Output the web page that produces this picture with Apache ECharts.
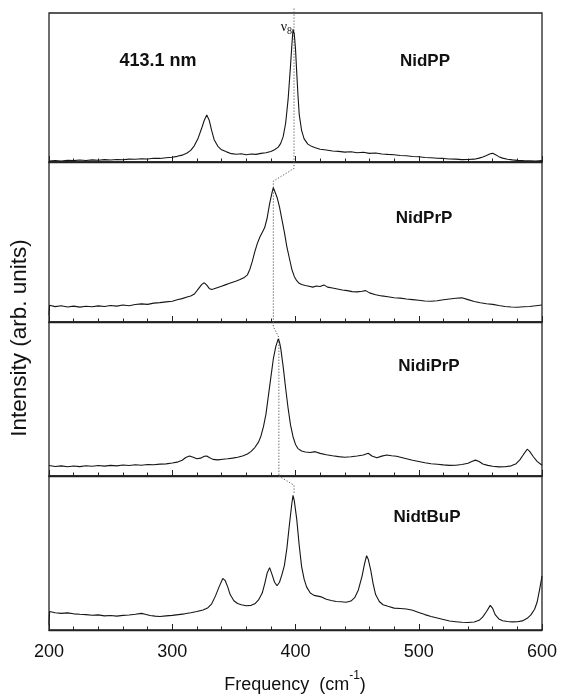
<!DOCTYPE html>
<html>
<head>
<meta charset="utf-8">
<script src="https://cdn.jsdelivr.net/npm/echarts@6/dist/echarts.min.js"></script>
<style>html,body{margin:0;padding:0;background:#fff;}#c{width:561px;height:700px;}</style>
</head>
<body>
<div id="c"></div>
<script>
// ---- data (frequency in cm-1, intensity in arbitrary units per panel, 0..100) ----
var panelNames = ['NidPP', 'NidPrP', 'NidiPrP', 'NidtBuP'];
var xTicks = [200, 300, 400, 500, 600];

var nidppX = [200,205,210,215,220,225,230,235,240,245,250,255,260,265,270,275,280,285,290,295,300,304,308,312,315,318,321,324,326,328,330,332,334,337,340,344,348,352,356,360,364,368,372,376,380,383,386,388,390,392,394,396,397,398,399,400,401,402,403,405,407,410,413,416,420,425,430,435,440,445,450,455,460,465,470,475,480,485,490,495,500,505,510,515,520,525,530,535,540,545,549,552,555,558,560,562,565,568,572,576,580,585,590,595,600];
var nidppY = [0.6,1.0,0.7,1.1,0.9,1.3,1.0,1.4,1.2,1.6,1.3,1.7,1.5,1.9,1.8,2.2,2.0,2.5,2.4,2.9,3.2,3.8,4.6,6.0,7.8,11,16,23,28,31.5,28,21,15,10.5,8.2,6.8,5.6,5.2,5.5,4.9,5.4,5.1,5.8,6.2,7.0,8.2,10,12.5,17,26,42,65,78,89,86,76,60,45,32,21,15.5,12,10.5,9.6,8.6,8.0,7.4,7.1,6.6,6.9,6.2,6.5,5.8,6.0,5.4,5.1,4.9,4.4,4.2,3.7,3.5,3.0,2.9,2.5,2.4,2.0,1.9,1.6,1.7,1.9,2.6,3.4,4.4,5.5,5.8,5.0,3.6,2.6,1.9,1.4,1.1,0.9,0.8,0.7,0.9];

var nidprpX = [200,200.5,205,210,215,220,225,230,235,240,245,250,255,260,265,270,275,280,285,290,295,300,304,308,312,315,318,321,324,326,328,330,332,334,337,340,343,346,349,352,355,358,361,363,365,367,369,371,373,375,377,379,381,382,383,385,387,389,391,393,395,397,399,401,403,405,408,411,414,417,420,423,426,430,434,438,442,446,450,454,457,460,465,470,475,480,485,490,495,500,505,510,515,520,525,530,535,540,545,550,555,560,565,570,575,580,585,590,595,600];
var nidprpY = [4,10.5,9.6,10.2,9.4,9.9,9.3,9.8,9.5,10.1,9.7,10.3,9.9,10.6,10.2,10.9,11.3,11.0,11.8,12.1,12.6,13.0,13.9,14.6,15.6,16.2,17.5,20.5,23.5,24.5,23.0,21.0,20.3,20.8,21.6,22.4,23.2,24.0,24.8,25.6,26.5,27.6,29.5,33,38,44,49,53,56,59,65,74,81,84,82,78,72,64,56,47,40,33,28.5,25.8,24.2,23.4,22.8,22.3,21.8,22.5,22.2,23.2,21.8,21.2,20.6,20.0,19.6,19.0,18.8,19.2,19.6,18.2,17.0,16.3,15.8,15.2,14.9,14.4,14.0,13.6,13.1,13.0,13.3,13.9,14.4,14.8,15.1,14.0,12.8,12.0,11.4,11.0,10.3,9.7,9.4,9.2,9.5,9.7,10.2,10.6];

var nidiprpX = [200,205,210,215,220,225,230,235,240,245,250,255,260,265,270,275,280,285,290,295,300,304,308,311,314,317,320,323,326,328,330,333,337,341,345,349,353,357,361,364,367,370,372,374,376,378,380,382,384,386,387,388,390,392,394,396,398,400,402,405,408,412,416,420,425,430,435,440,445,450,455,459,462,466,470,474,478,482,486,490,495,500,505,510,515,520,525,530,535,540,543,546,549,552,556,560,565,570,575,579,582,585,588,590,593,596,600];
var nidiprpY = [6.8,6.2,6.6,6.0,6.5,6.1,6.7,6.3,6.8,6.4,6.9,6.6,7.1,6.8,7.3,7.0,7.5,7.3,7.7,7.9,8.4,9.0,10.2,12.0,13.0,12.2,11.2,11.6,12.8,13.0,12.0,10.8,10.5,10.9,11.2,11.6,12.2,13.0,14.3,16.0,18.5,22,26,32,40,52,64,76,84,89,87,83,71,57,44,33,25.5,20.5,17.8,16.2,15.6,15.3,15.8,14.7,13.8,13.1,12.6,12.2,12.5,13.0,13.6,14.8,13.0,11.8,12.9,13.6,13.1,12.8,12.0,11.2,10.2,9.4,8.6,8.0,7.6,7.2,6.9,7.0,7.5,8.3,9.4,10.3,9.4,7.8,6.9,6.3,5.9,6.0,6.6,8.0,10.5,14.0,17.4,16.0,12.5,9.5,7.0];

var nidtbupX = [200,200.5,205,210,215,220,225,230,235,240,245,250,255,260,265,270,275,278,282,286,290,295,300,305,310,315,320,325,329,332,335,338,341,343,345,347,350,353,356,360,364,367,370,373,375,377,379,381,383,385,387,389,391,393,395,397,398,399,401,403,405,407,409,412,415,418,421,425,429,433,437,441,445,448,451,454,456,457.7,459,461,463,465,468,471,475,480,485,490,495,500,505,510,515,520,525,530,535,540,545,549,552,555,558,560,562,565,568,572,576,580,584,588,591,594,596,598,599,600];
var nidtbupY = [3.5,12.0,11.2,10.8,11.1,10.5,10.2,10.0,9.6,9.8,9.2,9.4,9.0,9.5,9.7,10.2,10.8,10.2,9.4,9.0,8.8,9.2,9.5,10.0,10.5,11.2,12.0,13.0,14.5,17,22,28,33.5,32,28,23,19,17.2,16.4,15.7,16.0,17.0,19.5,24,30,37,40.5,36,31,28.7,31,36,42,53,68,82,87.5,84,72,55,41,33,28,24,22.5,22,21.5,20,19.2,18.5,18.3,18.0,18.8,21,26,35,43,48.3,46,39,30,23,18.5,16.4,15.4,14.2,14.0,13.6,12.8,11.4,10.0,8.8,7.8,6.8,5.8,5.4,5.0,4.9,5.2,6.3,8.5,12.0,16.0,14.0,10.0,7.2,6.0,5.5,5.3,5.4,5.9,7.6,9.8,13.5,18,26,30.5,35];

// dotted guide following the v8 band through the panels
var guide1X = [398.8, 398.8];          var guide1Y = [103, 0];
var guide2X = [398.8, 398.8, 382, 382]; var guide2Y = [100, 96, 88, 0];
var guide3X = [382, 382, 386.5, 386.5]; var guide3Y = [100, 97, 90, 0];
var guide4X = [386.5, 386.5, 398.8, 398.8]; var guide4Y = [100, 99, 94, 89];

// ---- build ----
function zip(a, b) { return a.map(function (v, i) { return [v, b[i]]; }); }
var specX = [nidppX, nidprpX, nidiprpX, nidtbupX];
var specY = [nidppY, nidprpY, nidiprpY, nidtbupY];
var guideX = [guide1X, guide2X, guide3X, guide4X];
var guideY = [guide1Y, guide2Y, guide3Y, guide4Y];

var tops = [13, 162, 322, 476];
var heights = [149, 160, 154, 154];
var FONT = "'Liberation Sans', Arial, Helvetica, sans-serif";

var grids = [], xAxes = [], yAxes = [], series = [];
for (var i = 0; i < 4; i++) {
  grids.push({ left: 49, right: 19, top: tops[i], height: heights[i], show: true,
    borderColor: '#222', borderWidth: 1.3, backgroundColor: 'transparent' });
  xAxes.push({
    type: 'value', gridIndex: i, min: xTicks[0], max: xTicks[xTicks.length - 1], interval: 100,
    axisLine: { show: true, onZero: false, lineStyle: { color: '#222', width: 1.3 } },
    axisTick: { show: true, inside: true, length: 6, lineStyle: { color: '#222', width: 1 } },
    minorTick: { show: true, splitNumber: 5, length: 3.5, lineStyle: { color: '#222', width: 1 } },
    splitLine: { show: false },
    axisLabel: { show: i === 3, fontSize: 18, color: '#111', fontFamily: FONT, margin: 13 }
  });
  yAxes.push({ type: 'value', gridIndex: i, min: 0, max: 100, show: false });
  series.push({
    type: 'line', xAxisIndex: i, yAxisIndex: i, data: zip(specX[i], specY[i]),
    showSymbol: false, symbol: 'none', smooth: false,
    lineStyle: { color: '#151515', width: 1.1 }, silent: true, animation: false
  });
  series.push({
    type: 'line', xAxisIndex: i, yAxisIndex: i, data: zip(guideX[i], guideY[i]),
    showSymbol: false, symbol: 'none', clip: false,
    lineStyle: { color: '#555', width: 1, type: [1.2, 1.8] }, silent: true, animation: false, z: 1
  });
}

function label(text, x, y, size) {
  return { type: 'text', x: x, y: y, silent: true,
    style: { text: text, fill: '#111', font: 'bold ' + size + 'px ' + FONT,
      textAlign: 'center', textVerticalAlign: 'middle', align: 'center', verticalAlign: 'middle' } };
}

var graphic = [
  label('413.1 nm', 158, 61, 18),
  label(panelNames[0], 425, 61, 17),
  label(panelNames[1], 424, 218, 17),
  label(panelNames[2], 429, 366, 17),
  label(panelNames[3], 427, 517, 17),
  { type: 'text', x: 20, y: 338, rotation: Math.PI / 2, silent: true,
    style: { text: 'Intensity (arb. units)', fill: '#111', font: '22.5px ' + FONT,
      textAlign: 'center', textVerticalAlign: 'middle', align: 'center', verticalAlign: 'middle' } },
  { type: 'text', x: 295, y: 682, silent: true,
    style: { text: '{a|Frequency  (cm}{b|-1}{a|)}', fill: '#111',
      textAlign: 'center', textVerticalAlign: 'middle', align: 'center', verticalAlign: 'middle',
      rich: { a: { fontSize: 18, fontFamily: FONT, lineHeight: 24, verticalAlign: 'bottom', fill: '#111' },
              b: { fontSize: 12, fontFamily: FONT, lineHeight: 12, verticalAlign: 'top', fill: '#111' } } } },
  { type: 'text', x: 292, y: 28, silent: true,
    style: { text: '{v|ν}{s|8}', fill: '#111',
      textAlign: 'right', textVerticalAlign: 'middle', align: 'right', verticalAlign: 'middle',
      rich: { v: { fontSize: 14, fontFamily: "'Liberation Serif', 'DejaVu Serif', serif", lineHeight: 16, verticalAlign: 'top', fill: '#111' },
              s: { fontSize: 10, fontFamily: "'Liberation Serif', 'DejaVu Serif', serif", lineHeight: 16, verticalAlign: 'bottom', fill: '#111' } } } }
];

var chart = echarts.init(document.getElementById('c'), null, { renderer: 'canvas' });
chart.setOption({
  backgroundColor: '#fff',
  animation: false,
  grid: grids, xAxis: xAxes, yAxis: yAxes, series: series, graphic: graphic
});
</script>
</body>
</html>
